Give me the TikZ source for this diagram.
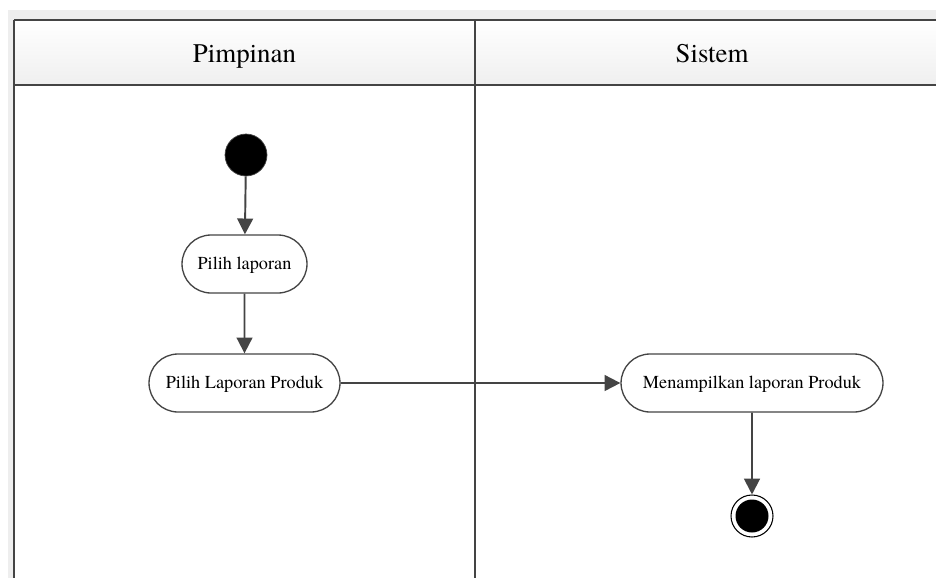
\documentclass[tikz,border=0pt]{standalone}
\usepackage{fontspec}
\setmainfont{texgyretermes-regular.otf}
\usetikzlibrary{arrows.meta,shapes.misc}
\definecolor{linegray}{HTML}{444444}
\definecolor{bandgray}{HTML}{EEEEEE}
\definecolor{headgray}{HTML}{EFEFEF}

\begin{document}
\begin{tikzpicture}[x=0.02cm, y=-0.02cm,
	lane/.style={draw=linegray, line width=1.1pt},
	act/.style={rounded rectangle, draw=linegray, line width=0.75pt, fill=white, minimum height=1.16cm, inner xsep=0pt, text height=0.7em, text depth=0.05em, font=\fontsize{10.4}{12}\selectfont},
	flow/.style={draw=linegray, line width=1.1pt, -{Triangle[length=9pt, width=9pt]}},
	head/.style={anchor=base, font=\fontsize{15.3}{18}\selectfont}]
	\useasboundingbox (0,0) rectangle (936,578);
	\fill[white] (0,0) rectangle (936,578);
	% frame of the swimlanes
	\fill[bandgray] (8,10) rectangle (936,20);
	\fill[bandgray] (8,10) rectangle (13,578);
	\shade[top color=white, bottom color=headgray] (14,20) rectangle (936,85);
	\draw[lane] (14,20) -- (936,20);
	\draw[lane] (14,85) -- (936,85);
	\draw[lane] (14,20) -- (14,578);
	\draw[lane] (475,20) -- (475,578);
	\node (pimpinan) [head] at (244.5,62) {Pimpinan};
	\node (sistem) [head] at (712,62) {Sistem};

	% activities
	\node (start) [circle, fill=black, draw=linegray, minimum size=0.84cm, inner sep=0pt] at (246,155) {};
	\node (pilih) [act, minimum width=2.5cm] at (244.5,264) {Pilih laporan};
	\node (produk) [act, minimum width=3.82cm] at (244.5,383) {Pilih Laporan Produk};
	\node (tampil) [act, minimum width=5.24cm] at (752,383) {Menampilkan laporan Produk};
	\node (end) [circle, draw=black, line width=0.6pt, fill=white, minimum size=0.84cm, inner sep=0pt] at (752,516) {};
	\fill[black] (end.center) circle (0.33cm);

	\draw[flow] (start) -- (pilih);
	\draw[flow] (pilih) -- (produk);
	\draw[flow] (produk) -- (tampil);
	\draw[flow] (tampil) -- (end);

\end{tikzpicture}
\end{document}
